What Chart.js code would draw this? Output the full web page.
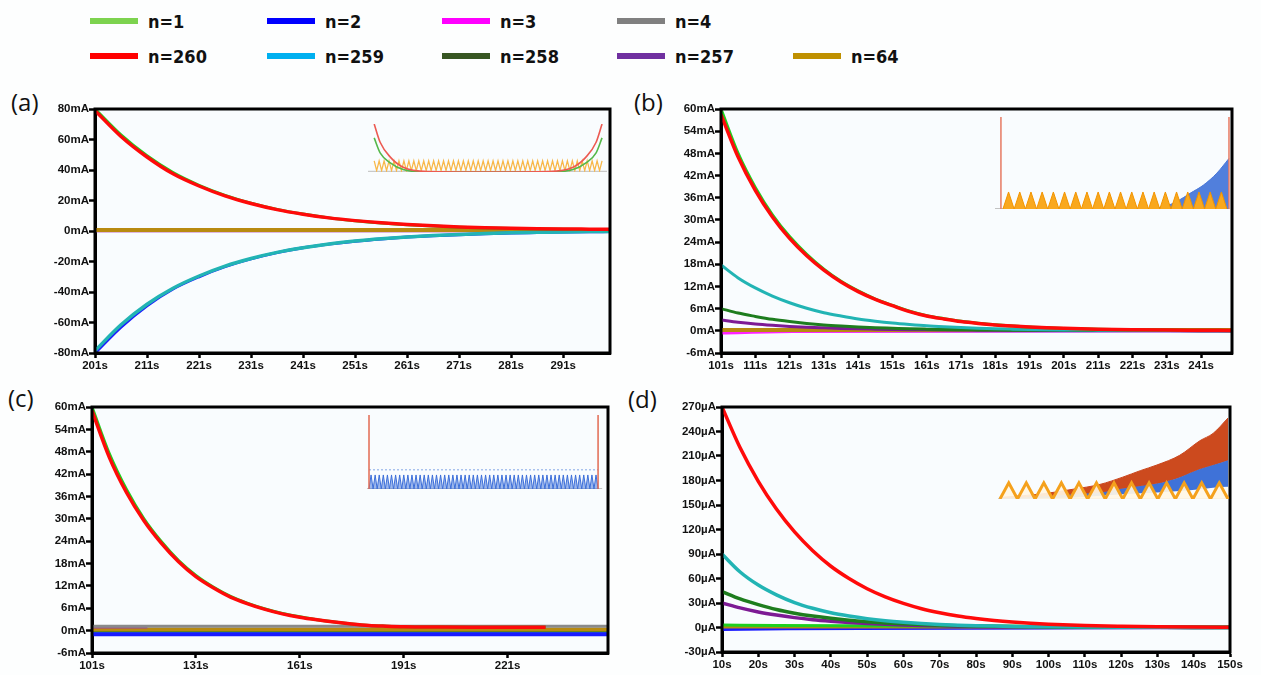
<!DOCTYPE html>
<html>
<head>
<meta charset="utf-8">
<script src="https://cdn.jsdelivr.net/npm/chart.js@4.4.0/dist/chart.umd.min.js"></script>
<style>
  body { margin: 0; width: 1261px; height: 675px; position: relative; overflow: hidden; background: #fdfefe; }
  canvas { position: absolute; }
  .tag { position: absolute; font-family: "Open Sans", "Noto Sans", sans-serif; font-size: 24px; line-height: 24px; color: #111; }
  .leg { position: absolute; height: 20px; display: flex; align-items: center;
         font-family: "DejaVu Sans Condensed", "DejaVu Sans", sans-serif; font-weight: bold; font-size: 18px; color: #111; }
  .leg span.sw { display: inline-block; width: 48px; height: 6px; margin-right: 10px; }
</style>
</head>
<body>
<div id="legend"></div>
<div class="tag" style="left:11px;top:90px">(a)</div>
<div class="tag" style="left:634px;top:90px">(b)</div>
<div class="tag" style="left:8px;top:386px">(c)</div>
<div class="tag" style="left:628px;top:387px">(d)</div>

<canvas id="pa" width="640" height="290" style="left:0px;top:90px"></canvas>
<canvas id="pb" width="641" height="290" style="left:620px;top:90px"></canvas>
<canvas id="pc" width="640" height="290" style="left:0px;top:385px"></canvas>
<canvas id="pd" width="641" height="290" style="left:620px;top:385px"></canvas>

<canvas id="ia" width="239" height="56" style="left:368px;top:120px"></canvas>
<canvas id="ib" width="237" height="98" style="left:995px;top:113px"></canvas>
<canvas id="ic" width="238" height="79" style="left:366px;top:412px"></canvas>
<canvas id="id" width="234" height="88" style="left:997px;top:414px"></canvas>

<script>
// ---- legend ----
const legendNames  = ['n=1', 'n=2', 'n=3', 'n=4', 'n=260', 'n=259', 'n=258', 'n=257', 'n=64'];
const legendColors = ['#7dd34f', '#0000ff', '#ff00ff', '#808080', '#ff0000', '#00b0f0', '#375623', '#7030a0', '#bf9000'];
const legendCol    = [0, 1, 2, 3, 0, 1, 2, 3, 4];
const legendRow    = [0, 0, 0, 0, 1, 1, 1, 1, 1];

// plot colours (as drawn in the panels)
const C = {
  n1: '#1fd01f', n2: '#1a1aff', n3: '#ff22ff', n4: '#8a8a8a',
  n260: '#ff0a0a', n259: '#22b4b4', n258: '#1e7d1e', n257: '#7d1a94', n64: '#b88a10'
};

// ---- panel (a) : 201s .. 300s, mA ----
const tA     = [201, 206, 211, 216, 221, 226, 231, 236, 241, 246, 251, 256, 261, 266, 271, 276, 281, 286, 291, 296, 300];
const aRed   = [79, 62, 48.5, 37.5, 29.5, 23, 18, 14, 11, 8.6, 6.8, 5.4, 4.3, 3.4, 2.7, 2.2, 1.8, 1.5, 1.3, 1.2, 1.1];
const aGreen = [80, 63, 49.3, 38.3, 30, 23.4, 18.3, 14.2, 11.1, 8.6, 6.7, 5.2, 4.1, 3.2, 2.5, 2.0, 1.6, 1.3, 1.1, 1.0, 0.9];
const aCyan  = [-78.5, -61.5, -48, -37.5, -29.5, -23, -18, -14, -11, -8.5, -6.6, -5.1, -3.9, -3, -2.3, -1.7, -1.2, -0.9, -0.6, -0.4, -0.3];
const aBlue  = [-80, -63, -49, -38, -30, -23.4, -18.3, -14.2, -11, -8.6, -6.7, -5.2, -4, -3.1, -2.4, -1.8, -1.3, -1, -0.7, -0.5, -0.4];
const tAflat = [201, 300];
const aGold  = [0.6, 0.6];
const aFlat  = [0.2, 0.2];
const xTicksA = [201, 211, 221, 231, 241, 251, 261, 271, 281, 291];
const yTicksA = [-80, -60, -40, -20, 0, 20, 40, 60, 80];

// ---- panel (b) : 101s .. 250s, mA ----
const tB       = [101, 106, 111, 116, 121, 126, 131, 136, 141, 146, 151, 156, 161, 166, 171, 176, 181, 186, 191, 196, 201, 211, 221, 231, 241, 250];
const bRed     = [58.5, 47, 38, 30.8, 25, 20.3, 16.4, 13.2, 10.6, 8.5, 6.8, 5.2, 4.0, 3.2, 2.5, 2.0, 1.6, 1.3, 1.05, 0.85, 0.7, 0.45, 0.3, 0.2, 0.15, 0.1];
const bGreen   = [60, 48, 38.8, 31.4, 25.5, 20.7, 16.7, 13.4, 10.8, 8.6, 6.9, 5.3, 4.1, 3.3, 2.6, 2.05, 1.65, 1.3, 1.0, 0.8, 0.65, 0.4, 0.28, 0.2, 0.15, 0.1];
const bCyan    = [17.8, 14.3, 11.6, 9.4, 7.6, 6.1, 4.9, 4.0, 3.2, 2.6, 2.1, 1.7, 1.35, 1.1, 0.9, 0.7, 0.55, 0.45, 0.37, 0.3, 0.25, 0.18, 0.12, 0.08, 0.06, 0.05];
const bDGreen  = [6, 4.8, 3.9, 3.1, 2.5, 2.0, 1.6, 1.3, 1.05, 0.85, 0.7, 0.55, 0.45, 0.37, 0.3, 0.25, 0.2, 0.17, 0.15, 0.13, 0.12, 0.1, 0.08, 0.06, 0.05, 0.05];
const bPurple  = [2.9, 2.3, 1.85, 1.5, 1.2, 0.97, 0.8, 0.65, 0.53, 0.45, 0.38, 0.32, 0.27, 0.23, 0.2, 0.17, 0.15, 0.13, 0.12, 0.11, 0.1, 0.08, 0.07, 0.06, 0.05, 0.05];
const tBmag    = [101, 122, 250];
const bMagenta = [-0.6, -0.2, 0];
const tBflat   = [101, 250];
const bGold    = [0.2, 0.2];
const bFlat    = [0, 0];
const xTicksB = [101, 111, 121, 131, 141, 151, 161, 171, 181, 191, 201, 211, 221, 231, 241];
const yTicksB = [-6, 0, 6, 12, 18, 24, 30, 36, 42, 48, 54, 60];

// ---- panel (c) : 101s .. 250s, mA ----
const tC      = [101, 106, 111, 116, 121, 126, 131, 136, 141, 146, 151, 156, 161, 166, 171, 176, 181, 186, 191, 201, 211, 221, 232];
const cRed    = [59, 46.5, 37, 29.5, 23.5, 18.5, 14.5, 11.5, 9, 7.2, 5.7, 4.5, 3.6, 2.9, 2.3, 1.8, 1.4, 1.2, 1.05, 0.95, 0.9, 0.9, 0.9];
const cGreen  = [60, 47.5, 37.8, 30, 23.9, 18.8, 14.8, 11.7, 9.2, 7.3, 5.8, 4.6, 3.7, 2.9, 2.3, 1.8, 1.4, 1.2, 1.05, 0.95, 0.9, 0.9, 0.9];
const tCflat  = [101, 250];
const tCmag   = [101, 117];
const cGray   = [1.2, 1.2];
const cMag    = [1.0, 1.0];
const cGold   = [0.3, 0.3];
const cDGreen = [0, 0];
const cCyan   = [-0.6, -0.6];
const cBlue   = [-1.0, -1.0];
const xTicksC = [101, 131, 161, 191, 221];
const yTicksC = [-6, 0, 6, 12, 18, 24, 30, 36, 42, 48, 54, 60];

// ---- panel (d) : 10s .. 150s, uA ----
const tD      = [10, 15, 20, 25, 30, 35, 40, 45, 50, 55, 60, 65, 70, 75, 80, 85, 90, 95, 100, 110, 120, 130, 140, 150];
const dRed    = [270, 220, 179, 145, 117, 94, 75, 60, 47.5, 37.5, 29.5, 23, 18, 14, 11, 8.6, 6.7, 5.2, 4.1, 2.5, 1.6, 1.0, 0.6, 0.4];
const dCyan   = [90, 68, 52, 40, 30.5, 23.5, 18, 14, 10.8, 8.3, 6.4, 4.9, 3.8, 2.9, 2.2, 1.7, 1.3, 1.0, 0.8, 0.5, 0.3, 0.2, 0.15, 0.1];
const dDGreen = [44, 35, 28, 22, 17.5, 14, 11.2, 8.9, 7.1, 5.6, 4.5, 3.6, 2.8, 2.2, 1.8, 1.4, 1.1, 0.9, 0.7, 0.45, 0.3, 0.2, 0.15, 0.1];
const dPurple = [30, 24, 19, 15.2, 12.1, 9.6, 7.7, 6.1, 4.9, 3.9, 3.1, 2.5, 2.0, 1.6, 1.3, 1.0, 0.8, 0.65, 0.5, 0.35, 0.25, 0.18, 0.12, 0.1];
const tDgreen = [10, 25, 150];
const dGreen  = [3, 2.5, 0.5];
const tDblue  = [10, 28, 150];
const dBlue   = [-2.5, -1.5, 0];
const tDgray  = [10, 55, 150];
const dGray   = [-1, -0.6, 0];
const tDflat  = [10, 150];
const dGold   = [0.5, 0.5];
const xTicksD = [10, 20, 30, 40, 50, 60, 70, 80, 90, 100, 110, 120, 130, 140, 150];
const yTicksD = [-30, 0, 30, 60, 90, 120, 150, 180, 210, 240, 270];

// ---- insets (normalised 0..1) ----
const insAx     = [0, 2.4, 6.5, 11.7, 21.4, 46, 70.6, 80.3, 85.5, 89.6, 92];
const insAred   = [1, 0.62, 0.31, 0.1, 0.01, 0, 0.01, 0.1, 0.31, 0.62, 1];
const insAgreen = [0.71, 0.4, 0.19, 0.05, 0, 0, 0, 0.05, 0.19, 0.4, 0.71];
const insAzig   = [0.23,0.03,0.23,0.03,0.23,0.03,0.23,0.03,0.23,0.03,0.23,0.03,0.23,0.03,0.23,0.03,0.23,0.03,0.23,0.03,
                   0.23,0.03,0.23,0.03,0.23,0.03,0.23,0.03,0.23,0.03,0.23,0.03,0.23,0.03,0.23,0.03,0.23,0.03,0.23,0.03,
                   0.23,0.03,0.23,0.03,0.23,0.03,0.23,0.03,0.23,0.03,0.23,0.03,0.23,0.03,0.23,0.03,0.23,0.03,0.23,0.03,
                   0.23,0.03,0.23,0.03,0.23,0.03,0.23,0.03,0.23,0.03,0.23,0.03,0.23,0.03,0.23,0.03,0.23,0.03,0.23,0.03,
                   0.23,0.03,0.23,0.03,0.23,0.03,0.23,0.03,0.23,0.03,0.23,0.03,0.23];

const insBspikeX = [-0.18, 20.18];
const insBteeth  = [0,0.185,0,0.185,0,0.185,0,0.185,0,0.185,0,0.185,0,0.185,0,0.185,0,0.185,0,0.185,
                    0,0.185,0,0.185,0,0.185,0,0.185,0,0.185,0,0.185,0,0.185,0,0.185,0,0.185,0,0.185,0];
const insBblueX  = [13, 14.5, 15.5, 16.7, 17.9, 19.1, 20.18];
const insBblue   = [0, 0.03, 0.08, 0.17, 0.26, 0.39, 0.55];

const insCspikeX = [0, 112];
const insCcomb   = [0,0.19,0,0.19,0,0.19,0,0.19,0,0.19,0,0.19,0,0.19,0,0.19,0,0.19,0,0.19,
                    0,0.19,0,0.19,0,0.19,0,0.19,0,0.19,0,0.19,0,0.19,0,0.19,0,0.19,0,0.19,
                    0,0.19,0,0.19,0,0.19,0,0.19,0,0.19,0,0.19,0,0.19,0,0.19,0,0.19,0,0.19,
                    0,0.19,0,0.19,0,0.19,0,0.19,0,0.19,0,0.19,0,0.19,0,0.19,0,0.19,0,0.19,
                    0,0.19,0,0.19,0,0.19,0,0.19,0,0.19,0,0.19,0,0.19,0,0.19,0,0.19,0,0.19,
                    0,0.19,0,0.19,0,0.19,0,0.19,0,0.19,0,0.19,0];
const insCdotted = [0.26, 0.26];

const insDx       = [0, 4.6, 8.3, 11.4, 14, 16, 17.9, 20.5, 22.8, 24.3, 26];
const insDredTop  = [0.02, 0.06, 0.12, 0.18, 0.27, 0.35, 0.42, 0.54, 0.72, 0.81, 1.0];
const insDblueTop = [0.01, 0.03, 0.06, 0.08, 0.13, 0.16, 0.19, 0.27, 0.37, 0.42, 0.48];
const insDblueBot = [0, 0.01, 0.02, 0.04, 0.06, 0.07, 0.08, 0.1, 0.12, 0.14, 0.15];
const insDtri     = [0,0.2,0,0.2,0,0.2,0,0.2,0,0.2,0,0.2,0,0.2,0,0.2,0,0.2,0,0.2,0,0.2,0,0.2,0,0.2,0];

// ---- legend build ----
const legendLeft = [90, 267, 442, 617, 793];
const legendTop = [11, 46];
const legBox = document.getElementById('legend');
legendNames.forEach((name, i) => {
  const d = document.createElement('div');
  d.className = 'leg';
  d.style.left = legendLeft[legendCol[i]] + 'px';
  d.style.top = legendTop[legendRow[i]] + 'px';
  d.innerHTML = '<span class="sw" style="background:' + legendColors[i] + '"></span>' + name;
  legBox.appendChild(d);
});

function pts(xs, ys) {
  return xs.map((x, i) => ({ x: x, y: ys[i] }));
}

// frame round the plot area + pale background
const framePlugin = {
  id: 'frame',
  beforeDraw(chart) {
    const a = chart.chartArea, ctx = chart.ctx;
    ctx.save();
    ctx.fillStyle = '#f9fcfe';
    ctx.fillRect(a.left, a.top, a.right - a.left, a.bottom - a.top);
    ctx.restore();
  },
  afterDraw(chart) {
    const a = chart.chartArea, ctx = chart.ctx;
    ctx.save();
    ctx.strokeStyle = '#000';
    ctx.lineWidth = 3;
    ctx.strokeRect(a.left, a.top, a.right - a.left, a.bottom - a.top);
    ctx.restore();
  }
};

const tickFont = { family: '"Liberation Sans", Arial, sans-serif', size: 11.5, weight: 'bold' };

function drawPanel(id, p) {
  new Chart(document.getElementById(id), {
    type: 'line',
    data: {
      datasets: p.series.map(s => ({
        label: s[0],
        data: pts(s[1], s[2]),
        borderColor: s[3],
        borderWidth: s[4] || 3,
        pointRadius: 0,
        cubicInterpolationMode: 'monotone',
        fill: false
      }))
    },
    options: {
      responsive: false,
      animation: false,
      events: [],
      layout: { padding: { top: p.padTop, right: p.padRight, left: 0, bottom: 0 } },
      plugins: { legend: { display: false }, tooltip: { enabled: false } },
      scales: {
        x: {
          type: 'linear', min: p.xMin, max: p.xMax,
          afterBuildTicks: s => { s.ticks = p.xTicks.map(v => ({ value: v })); },
          afterFit: s => { s.height = p.xH; },
          ticks: { callback: v => v + 's', font: tickFont, color: '#111', autoSkip: false, maxRotation: 0, padding: 1 },
          grid: { drawOnChartArea: false, drawTicks: true, tickLength: 5, tickWidth: 2.5, color: '#000' },
          border: { color: '#000', width: 3 }
        },
        y: {
          min: p.yMin, max: p.yMax,
          afterBuildTicks: s => { s.ticks = p.yTicks.map(v => ({ value: v })); },
          afterFit: s => { s.width = p.yW; },
          ticks: { callback: v => v + p.unit, font: tickFont, color: '#111', autoSkip: false, padding: 0 },
          grid: { drawOnChartArea: false, drawTicks: true, tickLength: 6, tickWidth: 2.5, color: '#000' },
          border: { color: '#000', width: 3 }
        }
      }
    },
    plugins: [framePlugin]
  });
}

drawPanel('pa', {
  xMin: 201, xMax: 300, yMin: -80, yMax: 80, xTicks: xTicksA, yTicks: yTicksA, unit: 'mA',
  yW: 95, xH: 27, padTop: 19, padRight: 30,
  series: [
    ['n=260', tA, aRed, C.n260, 3.5],
    ['n=1', tA, aGreen, C.n1],
    ['n=259', tA, aCyan, C.n259, 3.5],
    ['n=2', tA, aBlue, C.n2],
    ['n=64', tAflat, aGold, C.n64, 4],
    ['n=4', tAflat, aFlat, C.n4],
    ['n=3', tAflat, aFlat, C.n3]
  ]
});

drawPanel('pb', {
  xMin: 101, xMax: 250, yMin: -6, yMax: 60, xTicks: xTicksB, yTicks: yTicksB, unit: 'mA',
  yW: 101, xH: 27, padTop: 19, padRight: 29,
  series: [
    ['n=260', tB, bRed, C.n260, 3.5],
    ['n=1', tB, bGreen, C.n1],
    ['n=259', tB, bCyan, C.n259],
    ['n=258', tB, bDGreen, C.n258],
    ['n=257', tB, bPurple, C.n257],
    ['n=64', tBflat, bGold, C.n64, 4],
    ['n=3', tBmag, bMagenta, C.n3],
    ['n=2', tBflat, bFlat, C.n2],
    ['n=4', tBflat, bFlat, C.n4]
  ]
});

drawPanel('pc', {
  xMin: 101, xMax: 250, yMin: -6, yMax: 60, xTicks: xTicksC, yTicks: yTicksC, unit: 'mA',
  yW: 92, xH: 22, padTop: 22, padRight: 32,
  series: [
    ['n=260', tC, cRed, C.n260, 3.5],
    ['n=1', tC, cGreen, C.n1],
    ['n=2', tCflat, cBlue, C.n2, 4],
    ['n=4', tCflat, cGray, C.n4],
    ['n=3', tCmag, cMag, '#a0409a'],
    ['n=64', tCflat, cGold, C.n64, 4],
    ['n=258', tCflat, cDGreen, C.n258],
    ['n=259', tCflat, cCyan, C.n259]
  ]
});

drawPanel('pd', {
  xMin: 10, xMax: 150, yMin: -30, yMax: 270, xTicks: xTicksD, yTicks: yTicksD, unit: 'µA',
  yW: 102, xH: 23, padTop: 22, padRight: 31,
  series: [
    ['n=260', tD, dRed, C.n260, 3.5],
    ['n=259', tD, dCyan, C.n259, 3.5],
    ['n=258', tD, dDGreen, C.n258, 3.5],
    ['n=257', tD, dPurple, C.n257, 3.5],
    ['n=1', tDgreen, dGreen, C.n1],
    ['n=64', tDflat, dGold, C.n64],
    ['n=2', tDblue, dBlue, C.n2],
    ['n=4', tDgray, dGray, '#7a5aa0']
  ]
});

// ---- insets ----
function line(xs, ys, color, width, extra) {
  return Object.assign({ data: pts(xs, ys), borderColor: color, borderWidth: width, pointRadius: 0, fill: false, tension: 0 }, extra || {});
}

function drawInset(id, xMin, xMax, pad, sets) {
  new Chart(document.getElementById(id), {
    type: 'line',
    data: { datasets: sets },
    options: {
      responsive: false, animation: false, events: [],
      layout: { padding: pad },
      plugins: { legend: { display: false }, tooltip: { enabled: false } },
      scales: {
        x: { type: 'linear', display: false, min: xMin, max: xMax },
        y: { display: false, min: 0, max: 1 }
      }
    }
  });
}

const idx = (arr, step) => arr.map((_, i) => i * step);

drawInset('ia', -2.5, 94, { top: 4, bottom: 4, left: 0, right: 0 }, [
  line(insAx, insAred, '#ec5a52', 1.6, { cubicInterpolationMode: 'monotone' }),
  line(insAx, insAgreen, '#55b84a', 1.6, { cubicInterpolationMode: 'monotone' }),
  line(idx(insAzig, 1), insAzig, '#f8b84a', 1.3),
  line([-2.5, 94], [0, 0], '#c9c9c9', 2.5)
]);

drawInset('ib', -0.71, 20.45, { top: 4, bottom: 2, left: 0, right: 0 }, [
  line([insBspikeX[0], insBspikeX[0]], [0, 1], '#e77a62', 1.5),
  line([insBspikeX[1], insBspikeX[1]], [0, 1], '#e77a62', 1.5),
  line(idx(insBteeth, 0.5), insBteeth, '#f29400', 1, { fill: 'origin', backgroundColor: '#f9a81e' }),
  line(insBblueX, insBblue, '#4a78d8', 1, { fill: 'origin', backgroundColor: 'rgba(52,104,214,0.85)', cubicInterpolationMode: 'monotone' }),
  line([-0.71, 20.2], [0, 0], '#c2c2c2', 2)
]);

drawInset('ic', -1.47, 114.9, { top: 3, bottom: 2, left: 0, right: 0 }, [
  line([insCspikeX[0], insCspikeX[0]], [0, 1], '#e26a52', 1.5),
  line([insCspikeX[1], insCspikeX[1]], [0, 1], '#e26a52', 1.5),
  line(idx(insCcomb, 1), insCcomb, '#3d6fd9', 1, { fill: 'origin', backgroundColor: 'rgba(80,125,220,0.55)' }),
  line(insCspikeX, insCdotted, '#a9c2ee', 1.5, { borderDash: [2, 2] }),
  line([-1, 114], [0, 0], '#c2c2c2', 2)
]);

drawInset('id', -0.34, 26.34, { top: 4, bottom: 3, left: 0, right: 0 }, [
  line(idx(insDtri, 1), insDtri, '#f5a11c', 3, { fill: 'origin', backgroundColor: 'rgba(255,246,228,0.92)' }),
  line(insDx, insDredTop, '#c9441b', 1, { fill: '+1', backgroundColor: '#cc4a1e', cubicInterpolationMode: 'monotone' }),
  line(insDx, insDblueTop, '#3f6fd6', 1, { fill: '+1', backgroundColor: '#3f72d8', cubicInterpolationMode: 'monotone' }),
  line(insDx, insDblueBot, 'rgba(0,0,0,0)', 0, { cubicInterpolationMode: 'monotone' }),
  line([-0.2, 26], [0, 0], '#c2c2c2', 2)
]);
</script>
</body>
</html>
